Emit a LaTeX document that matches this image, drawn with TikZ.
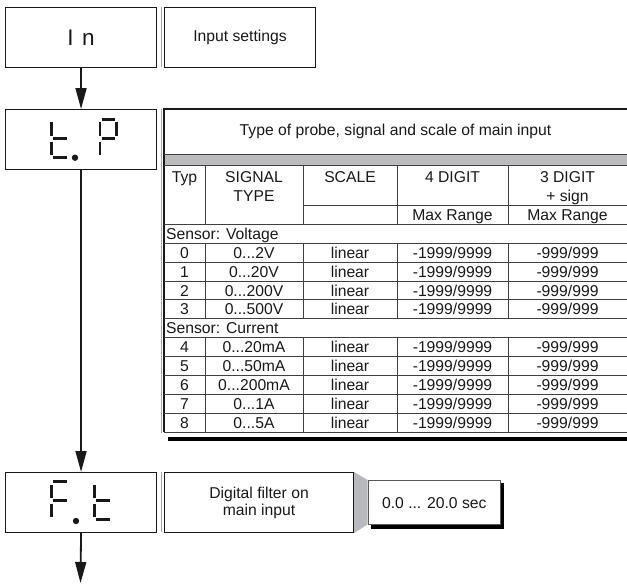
\documentclass[tikz,border=0pt]{standalone}
\usepackage{fontspec}
\setmainfont{Liberation Sans}
\usetikzlibrary{arrows.meta}
\definecolor{bandgray}{RGB}{188,188,190}
\definecolor{trapgray}{RGB}{184,185,190}
\newcommand\tdots{...}
\begin{document}
\begin{tikzpicture}[x=1pt,y=-1pt,
  font=\fontsize{15.7}{18.9}\selectfont, color=black!90,
  box/.style={draw=black!90, line width=1.1pt, minimum width=151pt, minimum height=60pt, inner sep=0pt, anchor=north west, align=center},
  seg/.style={line width=2.6pt},
  flow/.style={line width=1.8pt, -{Triangle[length=21pt,width=11pt]}},
  gridline/.style={draw=black!75, line width=0.8pt},
  sidegray/.style={draw=black!35, line width=0.9pt},
  cell/.style={inner sep=0pt, anchor=base}]
\useasboundingbox (0,0) rectangle (627,584);

% ---- boxes
\node[box] (in) at (5,7) {\fontsize{22.5}{24}\selectfont I\hspace{8.5pt}n};
\node[box] (inset) at (164,7) {Input settings};
\draw[sidegray] (161.5,7) -- (161.5,67);
\node[box] (tp) at (5,109) {};
\node[box] (ft) at (5,472) {};
\node[box, minimum width=189pt, font=\fontsize{15.7}{17}\selectfont] (dfilt) at (164,472) {Digital filter on\\main input};
\draw[sidegray] (161.5,472) -- (161.5,532);

% ---- seven segment: t.P
\draw[seg] (51.7,122) -- (51.7,135.5);
\draw[seg] (53,138.3) -- (66.5,138.3);
\draw[seg] (51.7,141.5) -- (51.7,155);
\draw[seg] (53,157.3) -- (66.5,157.3);
\fill (75,157.7) circle (3.2);
\draw[seg] (101.5,119.3) -- (115.2,119.3);
\draw[seg] (100,122) -- (100,135.5);
\draw[seg] (116.7,122) -- (116.7,135.5);
\draw[seg] (101.5,138.3) -- (115.2,138.3);
\draw[seg] (100,141.5) -- (100,155);

% ---- seven segment: F.t
\draw[seg] (53,481.7) -- (67,481.7);
\draw[seg] (51.7,484.5) -- (51.7,498);
\draw[seg] (53,500.7) -- (67,500.7);
\draw[seg] (51.7,503.5) -- (51.7,517);
\fill (76,521) circle (3.2);
\draw[seg] (94.3,484.5) -- (94.3,498);
\draw[seg] (95.6,500.7) -- (110,500.7);
\draw[seg] (94.3,503.5) -- (94.3,517);
\draw[seg] (95.6,519.7) -- (110,519.7);

% ---- arrows
\coordinate (endpt) at (80.5,583);
\draw[flow] (in.south) -- (tp.north);
\draw[flow] (tp.south) -- (ft.north);
\draw[flow] (ft.south) -- (endpt);

% ---- value box with shadow
\fill[trapgray] (dfilt.north east) -- (367.7,480) -- (367.7,524.3) -- (dfilt.south east) -- cycle;
\fill[black] (371,482.7) rectangle (504,529.3);
\node[draw=black!65, line width=0.9pt, fill=white, minimum width=132.3pt, minimum height=44.3pt, inner sep=0pt, anchor=north west] (val) at (367.7,480) {0.0 \tdots{} 20.0 sec};

% ---- table
\fill[black] (168,436.5) rectangle (627,441);
\fill[bandgray] (164,154) rectangle (627,165);
\draw[sidegray] (161.5,109) -- (161.5,433);
\draw[black!90, line width=1.1pt] (627,109) -- (164,109) -- (164,432.15);
\draw[gridline] (164,154) -- (627,154);
\draw[gridline] (164,165) -- (627,165);
\node[inner sep=0pt] (title) at (395.5,131.5) {Type of probe, signal and scale of main input};
% horizontal row lines
\draw[gridline] (303,205.35) -- (627,205.35);
\foreach \k in {2,3,4,5,6,7,8,9,10,11,12,13} {
  \draw[gridline] (164,186.45+18.9*\k) -- (627,186.45+18.9*\k);
}
% vertical column lines
\foreach \x in {205,303,397,508} {
  \draw[gridline] (\x,165) -- (\x,224.25);
  \draw[gridline] (\x,243.15) -- (\x,318.75);
  \draw[gridline] (\x,337.65) -- (\x,432.15);
}
% header text
\node[cell] (hTyp) at (184.5,182.6) {Typ};
\node[cell] (hSig) at (254,182.6) {SIGNAL};
\node[cell] (hType) at (254,201.5) {TYPE};
\node[cell] (hScale) at (350,182.6) {SCALE};
\node[cell] (hFour) at (452.5,182.6) {4 DIGIT};
\node[cell] (hThree) at (567.5,182.6) {3 DIGIT};
\node[cell] (hSign) at (567.5,201.5) {+ sign};
\node[cell] (hMaxA) at (452.5,220.4) {Max Range};
\node[cell] (hMaxB) at (567.5,220.4) {Max Range};
\node[cell, anchor=base west] (sV) at (166,239.3) {Sensor: Voltage};
\node[cell, anchor=base west] (sC) at (166,333.8) {Sensor: Current};
% data rows
\foreach \n/\sig/\k in {0/0\tdots 2V/4, 1/0\tdots 20V/5, 2/0\tdots 200V/6, 3/0\tdots 500V/7,
                        4/0\tdots 20mA/9, 5/0\tdots 50mA/10, 6/0\tdots 200mA/11, 7/0\tdots 1A/12, 8/0\tdots 5A/13} {
  \pgfmathsetmacro{\yb}{177+18.9*\k+5.6}
  \node[cell] (typ\n) at (184.5,\yb) {\n};
  \node[cell] (sig\n) at (254,\yb) {\sig};
  \node[cell] (sca\n) at (350,\yb) {linear};
  \node[cell] (fou\n) at (452.5,\yb) {-1999/9999};
  \node[cell] (thr\n) at (567.5,\yb) {-999/999};
}
\end{tikzpicture}
\end{document}
